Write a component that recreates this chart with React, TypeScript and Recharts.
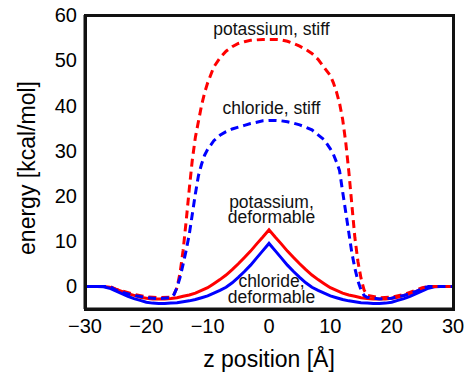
import { LineChart, Line, XAxis, YAxis, ReferenceDot } from 'recharts'

const X_TICKS = [-30, -20, -10, 0, 10, 20, 30]
const Y_TICKS = [0, 10, 20, 30, 40, 50, 60]
const X_RANGE: [number, number] = [-30, 30]
const Y_RANGE: [number, number] = [-5, 60]

// deformable channel, 1 Å sampling
const X_DEFORM = [
  -30, -28, -27, -26, -25, -24, -23, -22, -21, -20, -19, -18, -17, -16, -15, -14, -13, -12, -11, -10,
  -9, -8, -7, -6, -5, -4, -3, -2, -1, 0, 1, 2, 3, 4, 5, 6, 7, 8, 9, 10, 11, 12, 13, 14, 15, 16, 17,
  18, 19, 20, 21, 22, 23, 24, 25, 26, 27, 28, 30,
]
const K_DEFORM = [
  0, 0, 0, -0.2, -0.6, -1.1, -1.6, -2.0, -2.4, -2.6, -2.8, -2.8, -2.8, -2.7, -2.5, -2.2, -1.9, -1.5, -0.9, -0.3,
  0.6, 1.5, 2.5, 3.7, 5, 6.4, 7.8, 9.4, 10.9, 12.5, 10.9, 9.4, 7.8, 6.4, 5, 3.7, 2.5, 1.5, 0.6, -0.3, -0.9,
  -1.5, -1.9, -2.2, -2.5, -2.7, -2.8, -2.8, -2.8, -2.6, -2.4, -2.0, -1.6, -1.1, -0.6, -0.2, 0, 0, 0,
]
const CL_DEFORM = [
  0, 0, -0.1, -0.4, -1.0, -1.6, -2.2, -2.7, -3.1, -3.5, -3.7, -3.8, -3.8, -3.7, -3.6, -3.4, -3.2, -2.9, -2.5, -2.1,
  -1.5, -0.9, -0.2, 0.8, 2, 3.3, 4.7, 6.3, 7.9, 9.5, 7.9, 6.3, 4.7, 3.3, 2, 0.8, -0.2, -0.9, -1.5, -2.1, -2.5,
  -2.9, -3.2, -3.4, -3.6, -3.7, -3.8, -3.8, -3.7, -3.5, -3.1, -2.7, -2.2, -1.6, -1.0, -0.4, -0.1, 0, 0,
]

// stiff channel, finer sampling near the walls
const X_STIFF = [
  -30, -28, -26, -25, -24, -22, -20, -18, -16, -15.5, -15, -14.5, -14, -13.5, -13, -12.5, -12, -11.5, -11, -10.5,
  -10, -9, -8, -7, -6, -5, -4, -3, -2, -1, 0, 1, 2, 3, 4, 5, 6, 7, 8, 9, 10, 10.5, 11, 11.5, 12, 12.5, 13,
  13.5, 14, 14.5, 15, 15.5, 16, 18, 20, 22, 24, 25, 26, 28, 30,
]
const K_STIFF = [
  0, 0, 0, -0.6, -1.0, -1.8, -2.3, -2.5, -2.4, -1.8, -0.3, 3, 8, 14.5, 21.5, 28, 33, 36.5, 40, 42.8,
  45, 48.5, 50.5, 52, 53, 53.7, 54.1, 54.4, 54.5, 54.6, 54.6, 54.6, 54.5, 54.2, 53.7, 53.1, 52.4, 51.5, 50.2, 48.4,
  46.6, 45, 43, 40.5, 37, 32, 25.6, 18.2, 10.8, 5.5, 1.8, -0.8, -2, -2.5, -2.4, -1.8, -0.8, -0.3, 0, 0, 0,
]
const CL_STIFF = [
  0, 0, 0, -0.8, -1.3, -2.0, -2.5, -2.7, -2.5, -1.8, -0.3, 2, 4.9, 8, 11.5, 16, 20.5, 24.5, 27, 29,
  30.3, 32.2, 33.4, 34.2, 34.8, 35.2, 35.6, 36, 36.3, 36.6, 36.7, 36.7, 36.6, 36.4, 36.1, 35.7, 35.2, 34.6, 33.5, 32.4,
  30.4, 29.2, 27.5, 25.6, 21, 16.5, 12, 7.5, 4, 1.2, -0.8, -2, -2.4, -2.8, -2.6, -2, -1.1, -0.5, 0, 0, 0,
]

// curve annotations
const NOTES = [
  { text: 'potassium, stiff', x: 0.4, y: 57 },
  { text: 'chloride, stiff', x: 0.4, y: 39.4 },
  { text: 'potassium,', x: 0.4, y: 18.8 },
  { text: 'deformable', x: 0.4, y: 15.3 },
  { text: 'chloride,', x: 0.4, y: 1.3 },
  { text: 'deformable', x: 0.4, y: -2.2 },
]

const FONT = '"Liberation Sans", Arial, Helvetica, sans-serif'
const RED = '#ff0000'
const BLUE = '#0000ff'
const INK = '#000000'
const BOX = '#111111'

const W = 469
const H = 377
const MARGIN = { top: 15, right: 16, bottom: 0, left: 0 }
const Y_AXIS_W = 85
const X_AXIS_H = 68
const FRAME = 3

const withMinus = (v: number) => String(v).replace('-', '\u2212')

export default function App() {
  const deform = X_DEFORM.map((x, i) => ({ x, k: K_DEFORM[i], cl: CL_DEFORM[i] }))
  const stiff = X_STIFF.map((x, i) => ({ x, k: K_STIFF[i], cl: CL_STIFF[i] }))

  // plot box, from the same margins the chart uses
  const plotLeft = MARGIN.left + Y_AXIS_W
  const plotTop = MARGIN.top
  const plotW = W - plotLeft - MARGIN.right
  const plotH = H - plotTop - MARGIN.bottom - X_AXIS_H

  return (
    <div style={{ position: 'absolute', left: 0, top: 0, width: W, height: H, fontFamily: FONT }}>
      <LineChart width={W} height={H} margin={MARGIN}>
        <XAxis
          xAxisId="main"
          dataKey="x"
          type="number"
          domain={X_RANGE}
          ticks={X_TICKS}
          interval={0}
          allowDataOverflow
          height={X_AXIS_H}
          stroke={BOX}
          strokeWidth={FRAME}
          tickLine={false}
          tickSize={0}
          tickMargin={10}
          tickFormatter={withMinus}
          tick={{ fill: INK, fontSize: 20, fontFamily: FONT, stroke: 'none' }}
          label={{
            value: 'z position [Å]',
            position: 'insideBottom',
            offset: 10,
            fill: INK,
            stroke: 'none',
            fontSize: 23,
            fontFamily: FONT,
          }}
        />
        <YAxis
          yAxisId="main"
          type="number"
          domain={Y_RANGE}
          ticks={Y_TICKS}
          interval={0}
          allowDataOverflow
          width={Y_AXIS_W}
          stroke={BOX}
          strokeWidth={FRAME}
          tickLine={false}
          tickSize={0}
          tickMargin={8}
          tickFormatter={withMinus}
          tick={{ fill: INK, fontSize: 20, fontFamily: FONT, stroke: 'none' }}
          label={{
            value: 'energy [kcal/mol]',
            angle: -90,
            position: 'insideLeft',
            offset: 27,
            dy: 6,
            fill: INK,
            stroke: 'none',
            fontSize: 23,
            fontFamily: FONT,
            style: { textAnchor: 'middle' },
          }}
        />

        <Line xAxisId="main" yAxisId="main" data={deform} dataKey="k" type="linear" stroke={RED} strokeWidth={3} dot={false} isAnimationActive={false} />
        <Line xAxisId="main" yAxisId="main" data={deform} dataKey="cl" type="linear" stroke={BLUE} strokeWidth={3} dot={false} isAnimationActive={false} />
        <Line xAxisId="main" yAxisId="main" data={stiff} dataKey="k" type="linear" stroke={RED} strokeWidth={3} strokeDasharray="8 5" dot={false} isAnimationActive={false} />
        <Line xAxisId="main" yAxisId="main" data={stiff} dataKey="cl" type="linear" stroke={BLUE} strokeWidth={3} strokeDasharray="8 5" dot={false} isAnimationActive={false} />

        {NOTES.map((n, i) => (
          <ReferenceDot
            key={i}
            xAxisId="main"
            yAxisId="main"
            x={n.x}
            y={n.y}
            r={0}
            stroke="none"
            fill="none"
            label={{ value: n.text, position: 'center', fill: '#111111', fontSize: 17.5, fontFamily: FONT }}
          />
        ))}
      </LineChart>

      {/* matlab-style box around the plot area */}
      <div
        style={{
          position: 'absolute',
          left: plotLeft - FRAME / 2,
          top: plotTop - FRAME / 2,
          width: plotW + FRAME,
          height: plotH + FRAME,
          boxSizing: 'border-box',
          border: `${FRAME}px solid ${BOX}`,
          pointerEvents: 'none',
        }}
      />
    </div>
  )
}
